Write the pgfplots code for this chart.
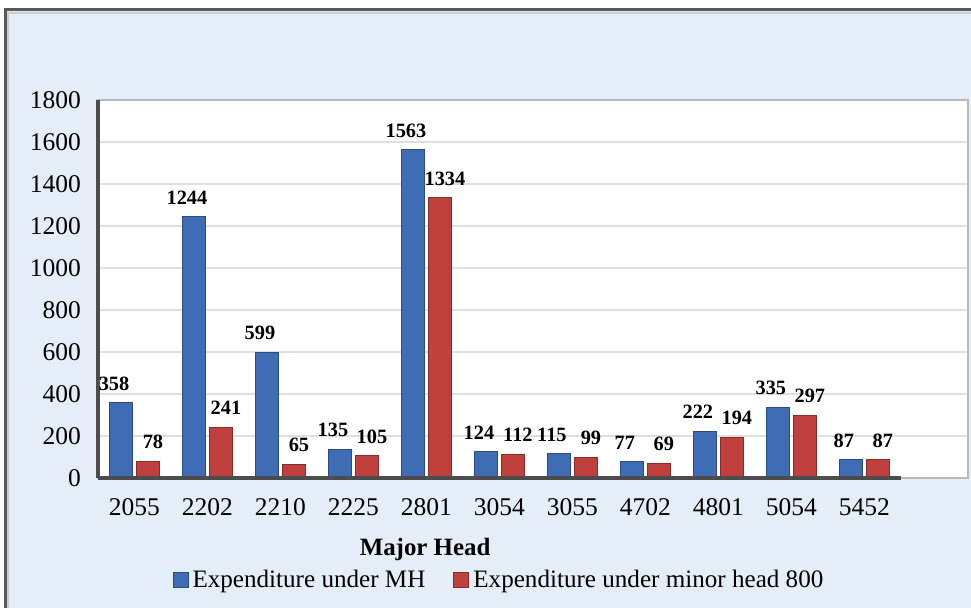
\documentclass[border=0pt]{standalone}
\usepackage{pgfplots}
\pgfplotsset{compat=1.18}
\usepackage{fontspec}
\setmainfont{Liberation Serif}
\definecolor{bgblue}{HTML}{E4EEF8}
\definecolor{mhblue}{HTML}{3E6DB5}
\definecolor{mhred}{HTML}{C0403E}
\begin{document}
\begin{tikzpicture}
\useasboundingbox (0,0) rectangle (485.5bp,304bp);
\fill[bgblue] (2.5bp,-5bp) rectangle (495bp,299bp);
\draw[gray!70!black, line width=1.5bp] (2.5bp,-5bp) -- (2.5bp,299bp) -- (495bp,299bp);
\draw[gray!40, line width=1bp] (3.8bp,-5bp) -- (3.8bp,297.7bp) -- (495bp,297.7bp);
\begin{axis}[
  at={(49bp,65bp)}, anchor=south west,
  scale only axis, width=435bp, height=189bp,
  axis background/.style={fill=white},
  ybar=2bp, bar width=11.5bp,
  xmin=-0.5, xmax=11.42, ymin=0, ymax=1800,
  xtick={0,...,10},
  xticklabels={2055,2202,2210,2225,2801,3054,3055,4702,4801,5054,5452},
  ytick={0,200,...,1800},
  major tick length=0pt,
  ymajorgrids, grid style={gray!25, line width=0.8bp},
  axis line style={draw=gray!55, line width=0.8bp},
  tick label style={font=\fontsize{12.8}{15}\selectfont},
  /pgf/number format/assume math mode=true,
  /pgf/number format/1000 sep={},
  xticklabel style={yshift=-6bp, text height=9bp, text depth=0pt},
  yticklabel style={xshift=-5bp},
  xlabel={\textbf{Major Head}},
  xlabel style={at={(axis description cs:0.376,-0.19)}, anchor=center, font=\fontsize{12.5}{14}\selectfont},
  nodes near coords,
  every node near coord/.append style={font=\bfseries\fontsize{10.2}{12}\selectfont, yshift=5bp, black, inner sep=1bp},
  clip=false,
  legend style={at={(0.462,-0.27)}, anchor=center, draw=none, fill=none,
    legend columns=2, font=\fontsize{12.6}{14}\selectfont,
    /tikz/every even column/.append style={column sep=12bp}},
  legend image code/.code={\path[#1] (0bp,-3.5bp) rectangle (7.5bp,4bp);},
]
\addplot[fill=mhblue, draw=mhblue!70!black, line width=0.5bp,
  every node near coord/.append style={xshift=-3.5bp}]
  coordinates {(0,358) (1,1244) (2,599) (3,135) (4,1563) (5,124) (6,115) (7,77) (8,222) (9,335) (10,87)};
\addplot[fill=mhred, draw=mhred!70!black, line width=0.5bp,
  every node near coord/.append style={xshift=2.5bp}]
  coordinates {(0,78) (1,241) (2,65) (3,105) (4,1334) (5,112) (6,99) (7,69) (8,194) (9,297) (10,87)};
\legend{Expenditure under MH, Expenditure under minor head 800}
\draw[gray!60!black, line width=2bp] (axis cs:-0.5,0) -- (axis cs:10.5,0);
\draw[gray!60!black, line width=2bp] (axis cs:-0.5,0) -- (axis cs:-0.5,1800);
\end{axis}
\end{tikzpicture}
\end{document}
